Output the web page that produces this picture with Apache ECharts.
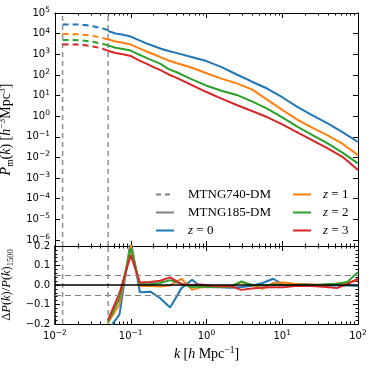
<!DOCTYPE html>
<html>
<head>
<meta charset="utf-8">
<script src="https://cdn.jsdelivr.net/npm/echarts@6/dist/echarts.min.js"></script>
<style>html,body{margin:0;padding:0;background:#fff}#chart{width:374px;height:368px}</style>
</head>
<body>
<div id="chart"></div>
<script>
// box scale limits (vertical dashed lines)
const kBox740 = 0.0126, kBox185 = 0.0503;

// MTNG740-DM part (dashed), k in h/Mpc
const kLow = [0.0126, 0.0158, 0.0200, 0.0251, 0.0316, 0.0398, 0.0501];
const pLowZ0 = [28000, 28000, 27500, 26000, 23000, 19000, 15000];
const pLowZ1 = [9500, 9500, 9300, 8700, 7800, 6600, 5200];
const pLowZ2 = [4900, 4900, 4800, 4500, 4000, 3400, 2700];
const pLowZ3 = [3000, 3000, 2950, 2750, 2400, 2000, 1500];

// MTNG185-DM part (solid)
const kHigh = [0.050, 0.063, 0.079, 0.100, 0.126, 0.158, 0.200, 0.251, 0.316, 0.398, 0.631,
  1.0, 1.58, 2.51, 3.98, 6.31, 10.0, 15.8, 25.1, 39.8, 63.1, 100];
const pHighZ0 = [13500, 10200, 8900, 7200, 5000, 3470, 2510, 1860, 1450, 1170, 741,
  468, 240, 105, 46.8, 21.9, 8.3, 2.8, 1.1, 0.45, 0.166, 0.056];
const pHighZ1 = [5370, 4170, 3630, 2950, 2040, 1410, 1000, 710, 500, 380, 229,
  120, 66, 39, 20, 6.3, 2.04, 0.68, 0.27, 0.117, 0.045, 0.013];
const pHighZ2 = [2690, 2090, 1820, 1510, 1000, 690, 480, 330, 190, 138, 63,
  30, 17, 10.7, 5.2, 2.3, 0.87, 0.31, 0.12, 0.048, 0.0166, 0.0052];
const pHighZ3 = [1480, 1150, 1000, 830, 525, 363, 240, 166, 105, 74, 33,
  14.8, 7.1, 3.5, 1.78, 0.91, 0.40, 0.166, 0.068, 0.0275, 0.0105, 0.00245];

// relative difference panel
const kRatio = [0.050, 0.071, 0.100, 0.132, 0.182, 0.245, 0.331, 0.468, 0.646, 0.832, 1.12, 1.51,
  2.09, 2.88, 3.98, 5.50, 7.59, 10.5, 14.5, 20.0, 27.5, 38.0, 52.5, 72.4, 100];
const dZ0 = [-0.23, -0.152, 0.23, -0.037, -0.034, -0.068, -0.115, -0.016, 0.027, -0.008, -0.01, -0.012,
  -0.014, -0.01, -0.004, 0.01, 0.032, 0.0, -0.002, 0.0, -0.002, -0.004, -0.003, -0.003, -0.005];
const dZ1 = [-0.195, -0.10, 0.205, -0.005, -0.005, -0.008, -0.002, 0.032, -0.025, -0.012, -0.012, -0.01,
  -0.006, 0.015, 0.0, -0.02, 0.01, 0.013, 0.006, 0.004, 0.002, 0.0, 0.008, 0.01, 0.027];
const dZ2 = [-0.19, -0.07, 0.19, 0.004, 0.005, 0.01, 0.025, 0.005, -0.01, -0.008, -0.01, -0.01,
  -0.008, 0.018, 0.0, -0.003, 0.002, 0.0, 0.0, 0.002, 0.0, 0.004, 0.006, 0.015, 0.066];
const dZ3 = [-0.18, -0.042, 0.153, 0.013, 0.015, 0.022, 0.039, 0.004, 0.0, 0.002, -0.004, -0.006,
  -0.005, -0.025, -0.018, -0.013, -0.011, -0.011, -0.005, -0.004, -0.006, -0.01, -0.016, 0.005, 0.032];

const zNames = ['z = 0', 'z = 1', 'z = 2', 'z = 3'];
const colors = ['#1f77b4', '#ff7f0e', '#2ca02c', '#d62728'];
const lowSets = [pLowZ0, pLowZ1, pLowZ2, pLowZ3];
const highSets = [pHighZ0, pHighZ1, pHighZ2, pHighZ3];
const diffSets = [dZ0, dZ1, dZ2, dZ3];

const L = Math.log10;
const yTopMin = -6.29, yTopMax = 5;   // log10 range of upper panel
const yBotMin = -0.2, yBotMax = 0.2;
const xDecades = [-2, -1, 0, 1, 2];
const yDecades = [-6, -5, -4, -3, -2, -1, 0, 1, 2, 3, 4, 5];
const xMinor = [];
for (let d = -2; d < 2; d++) for (let m = 2; m <= 9; m++) xMinor.push(d + L(m));

const SANS = 'DejaVu Sans', SERIF = 'Liberation Serif';
const tickRich = {
  s: {fontFamily: SANS, fontSize: 7.5, lineHeight: 14, verticalAlign: 'top', color: '#000'}
};
const pow10 = v => '10{s|' + (v < 0 ? '\u2212' : '') + Math.abs(Math.round(v)) + '}';
const nameRich = {
  n: {fontFamily: SERIF, fontSize: 14, lineHeight: 18, color: '#000'},
  i: {fontFamily: SERIF, fontSize: 14, lineHeight: 18, fontStyle: 'italic', color: '#000'},
  p: {fontFamily: SERIF, fontSize: 9.5, lineHeight: 18, verticalAlign: 'top', color: '#000'},
  b: {fontFamily: SERIF, fontSize: 9.5, lineHeight: 18, verticalAlign: 'bottom', color: '#000'}
};

function xAx(grid, pos, minor, labels) {
  return {
    type: 'value', gridIndex: grid, position: pos, min: -2, max: 2,
    axisLine: {show: true, onZero: false, lineStyle: {color: '#000', width: 1}},
    axisTick: {show: true, inside: true, length: minor ? 2.5 : 5,
      customValues: minor ? xMinor : xDecades, lineStyle: {color: '#000', width: 1}},
    axisLabel: {show: labels, customValues: xDecades, formatter: pow10, margin: 5,
      fontFamily: SANS, fontSize: 10, lineHeight: 14, color: '#000', rich: tickRich},
    splitLine: {show: false},
    name: labels ? '{i|k} {n|[}{i|h}{n| Mpc}{p|\u22121}{n|]}' : '',
    nameLocation: 'middle', nameGap: 21, nameTextStyle: {rich: nameRich}
  };
}

const legendBase = {
  top: 188, orient: 'vertical', padding: 0,
  itemWidth: 18, itemHeight: 12, itemGap: 5,
  itemStyle: {opacity: 0},
  textStyle: {fontFamily: SERIF, fontSize: 13, color: '#000', padding: [0, 0, 0, 9],
    rich: {i: {fontFamily: SERIF, fontSize: 13, fontStyle: 'italic', color: '#000'}}},
  formatter: n => n.startsWith('z') ? '{i|z} = ' + n.slice(4) : n
};

const option = {
  animation: false,
  backgroundColor: '#fff',
  grid: [
    {left: 55, right: 16, top: 13, height: 233, outerBoundsMode: 'none', containLabel: false},
    {left: 55, right: 16, top: 246, height: 78, outerBoundsMode: 'none', containLabel: false}
  ],
  xAxis: [
    xAx(0, 'bottom', false, false), xAx(0, 'bottom', true, false),
    xAx(0, 'top', false, false), xAx(0, 'top', true, false),
    xAx(1, 'bottom', false, true), xAx(1, 'bottom', true, false),
    xAx(1, 'top', false, false), xAx(1, 'top', true, false)
  ],
  yAxis: [
    {
      type: 'value', gridIndex: 0, position: 'left', min: yTopMin, max: yTopMax,
      axisLine: {show: true, onZero: false, lineStyle: {color: '#000'}},
      axisTick: {show: true, inside: true, length: 5, customValues: yDecades, lineStyle: {color: '#000'}},
      axisLabel: {customValues: yDecades, formatter: pow10, margin: 5,
        fontFamily: SANS, fontSize: 10, lineHeight: 14, color: '#000', rich: tickRich},
      splitLine: {show: false},
      name: '{i|P}{b|m}{n|(}{i|k}{n|) [}{i|h}{p|\u22123}{n|Mpc}{p|3}{n|]}',
      nameLocation: 'middle', nameGap: 28, nameTextStyle: {rich: nameRich}
    },
    {
      type: 'value', gridIndex: 0, position: 'right', min: yTopMin, max: yTopMax,
      axisLine: {show: true, onZero: false, lineStyle: {color: '#000'}},
      axisTick: {show: true, inside: true, length: 5, customValues: yDecades, lineStyle: {color: '#000'}},
      axisLabel: {show: false}, splitLine: {show: false}
    },
    {
      type: 'value', gridIndex: 1, position: 'left', min: yBotMin, max: yBotMax, interval: 0.1,
      axisLine: {show: true, onZero: false, lineStyle: {color: '#000', width: 1.5}},
      axisTick: {show: true, inside: true, length: 5, lineStyle: {color: '#000'}},
      minorTick: {show: true, splitNumber: 5, length: 2.5, lineStyle: {color: '#000'}},
      axisLabel: {margin: 5, fontFamily: SANS, fontSize: 10, color: '#000',
        formatter: v => (Math.abs(v) < 1e-9 ? '0.0' : v.toFixed(1).replace('-', '\u2212'))},
      splitLine: {show: false},
      name: '{n|\u0394}{i|P}{n|(}{i|k}{n|)/}{i|P}{n|(}{i|k}{n|)}{b|1500}',
      nameLocation: 'middle', nameGap: 29,
      nameTextStyle: {rich: {
        n: {fontFamily: SERIF, fontSize: 12.5, lineHeight: 16, color: '#000'},
        i: {fontFamily: SERIF, fontSize: 12.5, lineHeight: 16, fontStyle: 'italic', color: '#000'},
        b: {fontFamily: SERIF, fontSize: 8.5, lineHeight: 16, verticalAlign: 'bottom', color: '#000'}
      }}
    },
    {
      type: 'value', gridIndex: 1, position: 'right', min: yBotMin, max: yBotMax, interval: 0.1,
      axisLine: {show: true, onZero: false, lineStyle: {color: '#000'}},
      axisTick: {show: true, inside: true, length: 5, lineStyle: {color: '#000'}},
      minorTick: {show: true, splitNumber: 5, length: 2.5, lineStyle: {color: '#000'}},
      axisLabel: {show: false}, splitLine: {show: false}
    }
  ],
  legend: [
    Object.assign({left: 155, data: ['MTNG740-DM', 'MTNG185-DM', 'z = 0']}, legendBase),
    Object.assign({left: 292, data: ['z = 1', 'z = 2', 'z = 3']}, legendBase,
      {textStyle: Object.assign({}, legendBase.textStyle, {padding: [0, 0, 0, 7]})})
  ],
  series: []
};

// vertical box-scale lines as plain line series spanning each panel
const boxLineStyle = {color: '#909090', type: [5, 4], width: 1.5};
[[0, 0, yTopMin, yTopMax], [4, 2, yBotMin, yBotMax]].forEach(([xi, yi, lo, hi]) => {
  [kBox740, kBox185].forEach((k, n) => {
    option.series.push({
      name: 'box' + xi + '_' + n, type: 'line', xAxisIndex: xi, yAxisIndex: yi,
      symbol: 'none', silent: true, z: 1, lineStyle: boxLineStyle, color: '#909090',
      data: [[L(k), lo], [L(k), hi]]
    });
  });
});

// legend-only entries
option.series.push({name: 'MTNG740-DM', type: 'line', xAxisIndex: 0, yAxisIndex: 0, data: [],
  symbol: 'none', color: '#808080', lineStyle: {color: '#808080', width: 2, type: [5, 4]}});
option.series.push({name: 'MTNG185-DM', type: 'line', xAxisIndex: 0, yAxisIndex: 0, data: [],
  symbol: 'none', color: '#808080', lineStyle: {color: '#808080', width: 2}});

zNames.forEach((nm, j) => {
  option.series.push({
    name: nm + ' 740', type: 'line', xAxisIndex: 0, yAxisIndex: 0, symbol: 'none',
    color: colors[j], lineStyle: {width: 2, type: [6, 4]},
    data: kLow.map((k, i) => [L(k), L(lowSets[j][i])])
  });
  option.series.push({
    name: nm, type: 'line', xAxisIndex: 0, yAxisIndex: 0, symbol: 'none',
    color: colors[j], lineStyle: {width: 2},
    data: kHigh.map((k, i) => [L(k), L(highSets[j][i])])
  });
});

// lower panel reference lines
option.series.push({
  name: 'ref', type: 'line', xAxisIndex: 4, yAxisIndex: 2, data: [], symbol: 'none',
  markLine: {
    symbol: 'none', silent: true, label: {show: false},
    data: [
      {yAxis: 0.05, lineStyle: {color: '#808080', type: [6, 4], width: 1.2}},
      {yAxis: -0.05, lineStyle: {color: '#808080', type: [6, 4], width: 1.2}},
      {yAxis: 0, lineStyle: {color: '#000', type: 'solid', width: 1.5}}
    ]
  }
});
zNames.forEach((nm, j) => {
  option.series.push({
    name: nm + ' ratio', type: 'line', xAxisIndex: 4, yAxisIndex: 2, symbol: 'none',
    color: colors[j], lineStyle: {width: 2}, clip: true,
    data: kRatio.map((k, i) => [L(k), diffSets[j][i]])
  });
});

const chart = echarts.init(document.getElementById('chart'));
chart.setOption(option);
window.addEventListener('resize', () => chart.resize());
</script>
</body>
</html>
